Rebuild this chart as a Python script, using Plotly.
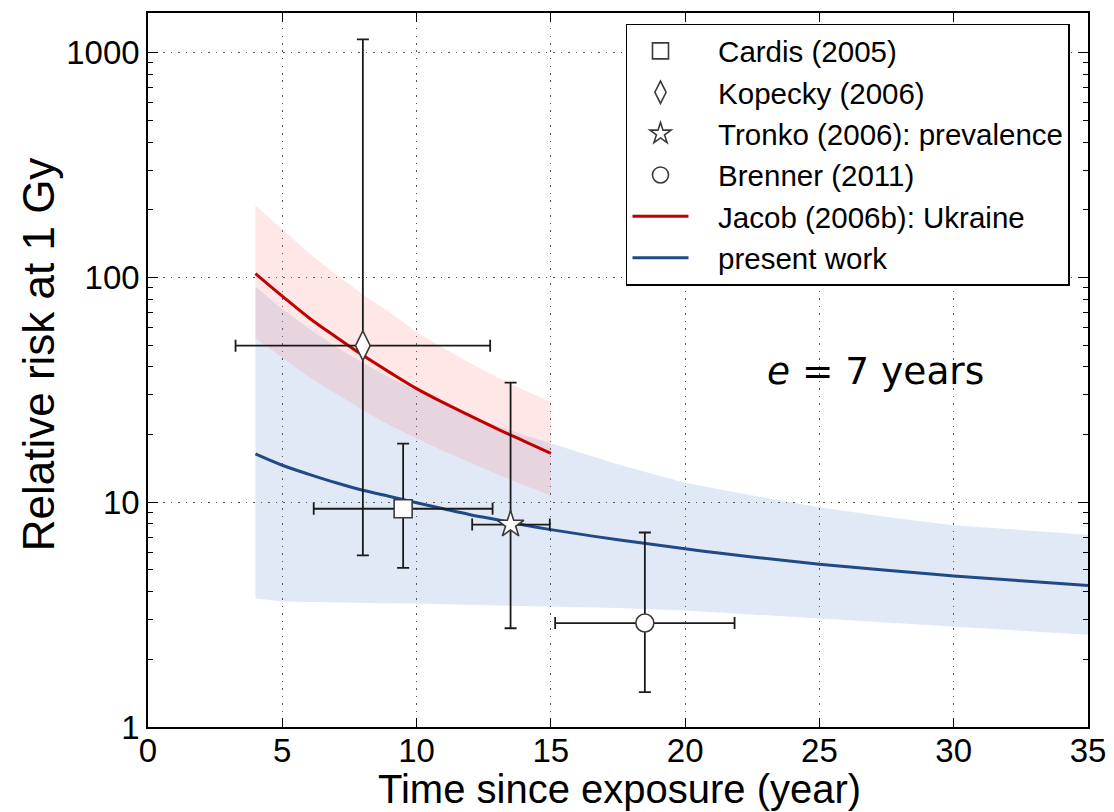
import plotly.graph_objects as go

# --- study points (relative risk at 1 Gy vs. time since exposure) ---
cardis_t, cardis_rr = [9.5], [9.35]
cardis_t_lo, cardis_t_hi = [6.17], [12.83]
cardis_rr_lo, cardis_rr_hi = [5.1], [18.2]

kopecky_t, kopecky_rr = [8.0], [49.7]
kopecky_t_lo, kopecky_t_hi = [3.26], [12.74]
kopecky_rr_lo, kopecky_rr_hi = [5.8], [1145]

tronko_t, tronko_rr = [13.5], [7.95]
tronko_t_lo, tronko_t_hi = [12.07], [14.96]
tronko_rr_lo, tronko_rr_hi = [2.75], [34.0]

brenner_t, brenner_rr = [18.5], [2.9]
brenner_t_lo, brenner_t_hi = [15.16], [21.84]
brenner_rr_lo, brenner_rr_hi = [1.43], [7.33]

# --- Jacob (2006b): Ukraine model curve with uncertainty band ---
jacob_t = [4, 5, 6, 7, 8, 9, 10, 11, 12, 13, 14, 15]
jacob_rr = [104, 82.5, 66, 54.3, 45, 37.8, 32, 27.7, 24.2, 21.2, 18.7, 16.5]
jacob_hi = [209, 163, 128, 103, 84, 70, 57, 48.5, 41.5, 36, 31.5, 28]
jacob_lo = [53.6, 44, 36, 30.5, 25.7, 22, 19.2, 16.9, 15, 13.3, 11.9, 10.7]

# --- present work model curve with uncertainty band ---
model_t = [4, 5, 6, 7, 8, 9, 10, 11, 12, 13, 14, 15, 17.5, 20, 22.5, 25, 27.5, 30, 32.5, 35]
model_rr = [16.4, 14.6, 13.3, 12.2, 11.3, 10.6, 9.95, 9.35, 8.8, 8.35, 7.92, 7.55,
            6.8, 6.2, 5.7, 5.3, 4.98, 4.7, 4.47, 4.26]
model_hi = [90.8, 72.4, 59.2, 49.2, 41.7, 35.9, 31.4, 27.7, 24.5, 21.9, 19.9, 18.3,
            14.7, 12.2, 10.7, 9.5, 8.6, 7.9, 7.5, 7.16]
model_lo = [3.74, 3.62, 3.6, 3.58, 3.57, 3.55, 3.54, 3.52, 3.5, 3.48, 3.46, 3.44,
            3.38, 3.3, 3.18, 3.05, 2.92, 2.8, 2.68, 2.57]

x_ticks = [0, 5, 10, 15, 20, 25, 30, 35]
y_ticks = [1, 10, 100, 1000]
y_tick_text = ["1", "10", "100", "1000"]

RED = "#c00000"
BLUE = "#1f4a86"
EDGE = "#3a3a3a"
ERR = "#1a1a1a"
FONT = "Liberation Sans, Arial, sans-serif"
PAD = "\u00a0\u00a0\u00a0"  # gap between legend sample and label

fig = go.Figure()

# uncertainty bands
fig.add_trace(go.Scatter(x=model_t + model_t[::-1], y=model_hi + model_lo[::-1],
                         fill="toself", fillcolor="rgba(70,120,200,0.16)",
                         line=dict(width=0), mode="lines", hoverinfo="skip",
                         showlegend=False))
fig.add_trace(go.Scatter(x=jacob_t + jacob_t[::-1], y=jacob_hi + jacob_lo[::-1],
                         fill="toself", fillcolor="rgba(255,120,120,0.18)",
                         line=dict(width=0), mode="lines", hoverinfo="skip",
                         showlegend=False))

# model curves
fig.add_trace(go.Scatter(x=jacob_t, y=jacob_rr, mode="lines",
                         name=PAD + "Jacob (2006b): Ukraine",
                         line=dict(color=RED, width=3, shape="spline"),
                         legendgroup="g5", legendrank=5))
fig.add_trace(go.Scatter(x=model_t, y=model_rr, mode="lines",
                         name=PAD + "present work",
                         line=dict(color=BLUE, width=3, shape="spline"),
                         legendgroup="g6", legendrank=6))


def study(t, rr, t_lo, t_hi, rr_lo, rr_hi, name, symbol, size, rank):
    fig.add_trace(go.Scatter(
        x=t, y=rr, mode="markers", name=PAD + name,
        marker=dict(symbol=symbol, size=size, color="white",
                    line=dict(color=EDGE, width=1.6)),
        error_x=dict(type="data", symmetric=False,
                     array=[a - b for a, b in zip(t_hi, t)],
                     arrayminus=[b - a for a, b in zip(t_lo, t)],
                     color=ERR, thickness=1.8, width=6),
        error_y=dict(type="data", symmetric=False,
                     array=[a - b for a, b in zip(rr_hi, rr)],
                     arrayminus=[b - a for a, b in zip(rr_lo, rr)],
                     color=ERR, thickness=1.8, width=6),
        legendgroup="g%d" % rank, legendrank=rank))


study(cardis_t, cardis_rr, cardis_t_lo, cardis_t_hi, cardis_rr_lo, cardis_rr_hi,
      "Cardis (2005)", "square", 18, 1)
study(kopecky_t, kopecky_rr, kopecky_t_lo, kopecky_t_hi, kopecky_rr_lo, kopecky_rr_hi,
      "Kopecky (2006)", "diamond-tall", 21, 2)
study(tronko_t, tronko_rr, tronko_t_lo, tronko_t_hi, tronko_rr_lo, tronko_rr_hi,
      "Tronko (2006): prevalence", "star", 20, 3)
study(brenner_t, brenner_rr, brenner_t_lo, brenner_t_hi, brenner_rr_lo, brenner_rr_hi,
      "Brenner (2011)", "circle", 18, 4)

fig.add_annotation(x=27.1, y=1.585, xref="x", yref="y",
                   text="<i>e</i> = 7 years", showarrow=False,
                   font=dict(family="DejaVu Sans", size=37.5, color="black"))

# axis titles
fig.add_annotation(x=0.5015, y=-0.0868, xref="paper", yref="paper",
                   xanchor="center", yanchor="middle", showarrow=False,
                   text="Time since exposure (year)",
                   font=dict(family=FONT, size=40, color="black"))
fig.add_annotation(x=-0.117, y=0.522, xref="paper", yref="paper",
                   xanchor="center", yanchor="middle", showarrow=False,
                   textangle=-90, text="Relative risk at 1 Gy",
                   font=dict(family=FONT, size=44, color="black"))

axis_common = dict(showline=True, linecolor="black", linewidth=1.5, mirror="ticks",
                   ticks="inside", tickcolor="black", tickwidth=1.2, automargin=False,
                   showgrid=True, gridcolor="#555555", griddash="1.5px,6px", gridwidth=1.2,
                   zeroline=False, tickfont=dict(family=FONT, size=33, color="black"))

fig.update_xaxes(range=[0, 35], tickvals=x_ticks, ticklen=9, ticklabelstandoff=-6,
                 **axis_common)
fig.update_yaxes(type="log", range=[0, 3.176], tickvals=y_ticks, ticktext=y_tick_text,
                 ticklen=10,
                 minor=dict(ticks="inside", ticklen=5, tickcolor="black", tickwidth=1,
                            dtick="D1", showgrid=False),
                 **axis_common)

fig.update_layout(
    width=1114, height=812,
    margin=dict(l=148, r=26, t=13, b=85),
    plot_bgcolor="white", paper_bgcolor="white",
    legend=dict(x=0.5085, y=0.985, xanchor="left", yanchor="top",
                bgcolor="white", bordercolor="black", borderwidth=1.5,
                font=dict(family=FONT, size=29.5, color="black"),
                itemwidth=56, tracegroupgap=3, traceorder="normal"),
)

fig.write_html("out.html")
